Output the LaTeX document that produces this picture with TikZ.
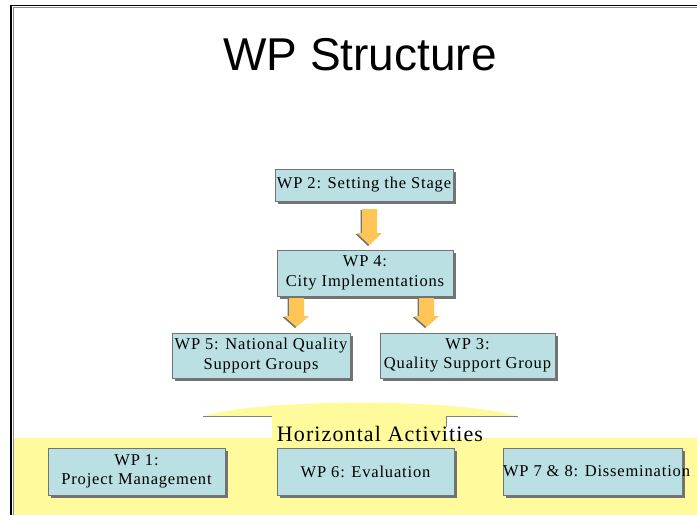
\documentclass[tikz,border=0pt]{standalone}
\usepackage{fontspec}
\setmainfont{Liberation Serif}
\newfontfamily\titlefont{Liberation Sans}
\newfontfamily\boxfont[LetterSpace=5]{Liberation Serif}
\usetikzlibrary{shadows}
\definecolor{boxblue}{HTML}{BAE0E4}
\definecolor{bandyellow}{HTML}{FFFA9C}
\definecolor{arrowcol}{HTML}{FFC556}
\tikzset{
  x=1pt, y=-1pt,
  wpbox/.style={draw=black!55, line width=0.5pt, fill=boxblue, inner sep=0pt,
    align=center, font=\boxfont\fontsize{16.5}{19.5}\selectfont,
    drop shadow={shadow xshift=2.5pt, shadow yshift=-2.5pt, fill=black!55, opacity=1}},
  downarrow/.style={fill=arrowcol, draw=none,
    drop shadow={shadow xshift=-1.5pt, shadow yshift=-1pt, fill=black!55, opacity=1}},
}
\begin{document}
\begin{tikzpicture}
\useasboundingbox (0,0) rectangle (697,515);
% frame
\draw[line width=1.2pt, black] (11,515) -- (11,5.5) -- (697,5.5);
\draw[line width=0.6pt, black!45] (13,515) -- (13,7.5) -- (697,7.5);
% yellow band
\fill[bandyellow] (13.5,437.5) rectangle (697,515);
% tab with hump
\fill[bandyellow] (203,416.5) .. controls (260,398) and (460,398) .. (518,416.5) -- cycle;
\fill[bandyellow] (272,416) rectangle (446,438);
\draw[black!50, line width=0.8pt] (203,416.5) -- (272,416.5);
\draw[black!50, line width=0.8pt] (446,427) -- (446,416.5) -- (518,416.5);
% title
\node[font=\titlefont\fontsize{46}{50}\selectfont, anchor=base] (title) at (360,70) {WP Structure};
% boxes
\node[wpbox, minimum width=178pt, minimum height=32pt] (wp2) at (364,185) {WP 2: Setting the Stage};
\node[wpbox, minimum width=176pt, minimum height=46pt] (wp4) at (365,273) {WP 4:\\City Implementations};
\node[wpbox, minimum width=178pt, minimum height=45pt] (wp5) at (261,355.5) {WP 5: National Quality\\Support Groups};
\node[wpbox, minimum width=175pt, minimum height=45pt] (wp3) at (467.5,355.5) {WP 3:\\Quality Support Group};
\node[wpbox, minimum width=177pt, minimum height=47pt] (wp1) at (136.5,471.5) {WP 1:\\Project Management};
\node[wpbox, minimum width=177pt, minimum height=47pt] (wp6) at (365.5,471.5) {WP 6: Evaluation};
\node[wpbox, minimum width=179pt, minimum height=47pt] (wp78) at (592.5,471.5) {\makebox[179pt][l]{WP 7 \& 8: Dissemination}};
% horizontal activities label
\node[font=\boxfont\fontsize{22}{24}\selectfont, anchor=base] (horiz) at (380,441.5) {Horizontal Activities};
% arrows
\path[downarrow] (362,209) -- (377,209) -- (377,233) -- (382,233) -- (369.5,245) -- (357,233) -- (362,233) -- cycle;
\path[downarrow] (289,298) -- (304,298) -- (304,316) -- (309,316) -- (296.5,327) -- (284,316) -- (289,316) -- cycle;
\path[downarrow] (419,298) -- (434,298) -- (434,316) -- (439,316) -- (426.5,327) -- (414,316) -- (419,316) -- cycle;
\end{tikzpicture}
\end{document}
